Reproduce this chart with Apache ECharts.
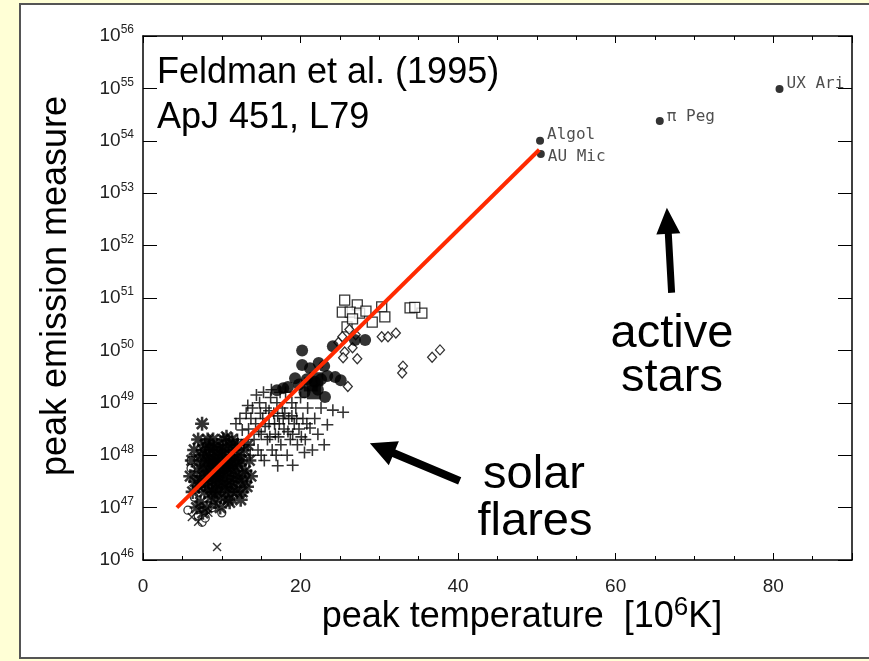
<!DOCTYPE html>
<html><head><meta charset="utf-8">
<script src="https://cdn.jsdelivr.net/npm/echarts@6.0.0/dist/echarts.min.js"></script>
<style>
html,body{margin:0;padding:0;background:#ffffd6;width:869px;height:661px;overflow:hidden}
#panel{position:absolute;left:19px;top:3px;width:880px;height:656px;background:#fff;border:2px solid #555;box-sizing:border-box}
#chart{position:absolute;left:0;top:0;width:869px;height:661px}
</style></head><body><div id="panel"></div><div id="chart"></div>
<script>
// ---- data: [temperature (10^6 K), log10(emission measure)] ----
const asteriskPts = [
 [6.0,47.6],[6.2,47.9],[6.3,47.3],[6.5,48.1],[6.6,47.5],[6.8,47.0],[6.9,47.7],[7.0,48.3],
 [7.1,47.4],[7.2,47.9],[7.3,47.1],[7.4,48.0],[7.5,47.6],[7.5,48.6],[7.6,46.9],[7.7,47.8],[7.8,47.3],[7.9,48.2],[8.0,47.6],
 [8.1,47.0],[8.2,47.9],[8.2,48.3],[8.3,47.4],[8.4,47.7],[8.5,48.1],[8.6,47.2],[8.7,47.9],[8.8,47.5],[8.9,48.3],[9.0,47.8],
 [9.1,47.1],[9.2,48.0],[9.3,47.6],[9.4,47.3],[9.4,48.2],[9.5,47.9],[9.6,47.5],[9.7,48.1],[9.8,47.7],[9.9,47.2],[10.0,48.0],
 [10.1,47.6],[10.2,48.3],[10.3,47.8],[10.4,47.4],[10.5,48.1],[10.6,47.9],[10.7,47.6],[10.8,47.15],[10.9,48.2],[11.0,47.8],
 [11.1,47.5],[11.2,48.0],[11.3,48.3],[11.4,47.7],[11.5,47.4],[11.6,48.1],[11.7,47.9],[11.8,47.6],[12.0,48.2],
 [12.1,47.8],[12.3,47.5],[12.5,47.9],[12.6,47.3],[12.8,48.1],[13.0,47.7],[13.2,47.4],[13.5,47.9],[13.7,47.6],
 [7.8,47.75],[8.6,47.65],[9.0,48.15],[9.6,47.85],[10.0,47.45],[10.4,47.95],[10.8,47.75],[11.4,48.2],[12.2,48.0],[8.8,47.3],
 [9.8,47.0],[11.9,47.3],[12.9,47.5],[7.3,47.5],[8.0,48.0],[10.6,48.35],[13.3,48.2],[11.0,47.1],[12.4,47.15],[9.3,47.45],
 [8.3,47.55],[8.9,47.85],[9.2,47.35],[9.7,47.65],[10.2,47.7],[10.5,47.3],[11.2,47.75],[11.6,47.55],[8.5,47.95],[9.5,48.05],
 [10.9,47.95],[7.9,47.45],[8.4,48.15],[10.1,48.15],[11.9,47.85],[12.6,47.65],[7.6,48.1],[9.1,47.6],[10.7,47.45],[11.3,47.3]
];
const xMarkPts = [[6.2,46.82],[7.0,46.73],[9.4,46.25],[8.3,46.9]];
const openCirclePts = [[5.7,46.95],[6.1,47.9],[6.1,47.75],[6.5,47.2],[7.0,46.85],[7.5,46.72],[7.9,46.8],[8.8,47.0],[10.0,46.9],[6.8,47.4]];
const plusPts = [
 [11.8,48.6],[12.0,48.3],[12.3,48.7],[12.6,48.48],[12.8,48.2],[13.1,48.8],[13.4,48.5],[13.6,48.0],[13.9,48.9],[14.1,48.3],
 [14.3,48.6],[14.6,48.1],[14.8,49.0],[15.0,48.4],[15.2,48.7],[15.4,47.9],[15.6,48.9],[15.8,48.3],[16.0,48.6],[16.2,49.1],
 [16.4,48.1],[16.6,48.8],[16.8,48.4],[17.0,49.0],[17.1,47.8],[17.3,48.6],[17.5,48.2],[17.7,48.9],[17.9,48.5],[18.1,49.2],
 [18.3,48.0],[18.5,48.7],[18.7,48.3],[18.9,49.0],[19.0,47.81],[19.2,48.6],[19.4,48.9],[19.6,48.2],[19.8,48.5],[20.0,49.1],
 [20.3,48.7],[20.6,48.3],[20.9,48.9],[21.2,48.52],[21.5,48.1],[21.8,48.7],[22.2,48.4],[22.6,48.9],[23.0,48.2],[23.4,48.58],
 [24.1,48.86],[25.4,48.82],
 [14.4,49.15],[15.3,49.2],[16.3,49.25],[17.4,49.2],[13.3,48.95],[15.0,48.0],[16.9,48.0],[18.0,48.8],[19.0,48.4],[20.5,48.05],
 [14.7,48.45],[15.5,48.55],[16.1,48.35],[16.7,48.6],[17.2,48.35],[17.8,48.7],[18.4,48.45],[18.9,48.75],[19.5,48.7],[20.1,48.35],
 [20.8,48.6],[13.7,48.7],[14.9,48.8],[16.0,48.85],[17.1,48.75]
];
const filledCirclePts = [[17.0,49.24],[17.8,49.28],[18.4,49.3],[19.3,49.47],[20.2,50.0],[20.2,49.72],[21.2,49.66],[22.3,49.76],
 [24.1,50.08],[23.4,49.51],[24.4,49.49],[25.1,49.43],[23.1,49.11],[21.8,49.4],[22.2,49.25],[20.8,49.45],[22.6,49.45],[26.9,50.2],[28.2,50.2],
 [19.8,49.35],[20.5,49.2],[23.0,49.7]];
const filledSquarePts = [[21.3,49.35],[22.0,49.45],[21.7,49.2]];
const openSquarePts = [[25.6,50.96],[27.2,50.87],[25.3,50.73],[26.3,50.73],[27.5,50.71],[29.1,50.54],[30.3,50.83],[30.7,50.64],
 [33.9,50.81],[35.4,50.71],[25.9,50.45],[26.6,50.6],[28.3,50.75],[34.5,50.82]];
const diamondPts = [[30.3,50.26],[31.1,50.26],[32.1,50.33],[25.3,50.26],[25.6,49.97],[27.2,49.84],[25.4,49.86],[26.0,49.31],
 [33.0,49.70],[32.9,49.57],[36.7,49.87],[37.7,50.01],[26.6,50.05],[26.2,50.4],[27.0,50.3],[24.8,50.15]];
const starNames = ['Algol','AU Mic','\u03c0 Peg','UX Ari'];
const starTemps = [50.4, 50.5, 65.6, 80.8];
const starLogEM = [54.0, 53.75, 54.38, 54.99];
const fitLine = [[4.3,47.0],[50.3,53.83]];
const arrowActive = [[67.1,51.1],[66.5,52.72]];
const arrowSolar = [[40.2,47.51],[28.8,48.23]];
const xRange = [0, 90];
const yExpRange = [46, 56];

// ---- build ----
const P = p => [p[0], Math.pow(10, p[1])];
const ASTER = 'path://M0,4.1H10V5.9H0Z M4.1,0H5.9V10H4.1Z M0.6,1.9L1.9,0.6L9.4,8.1L8.1,9.4Z M8.1,0.6L9.4,1.9L1.9,9.4L0.6,8.1Z';
const XMARK = 'path://M0.5,1.5L1.5,0.5L9.5,8.5L8.5,9.5Z M8.5,0.5L9.5,1.5L1.5,9.5L0.5,8.5Z';
const PLUS = 'path://M0,4.35H10V5.65H0Z M4.35,0H5.65V10H4.35Z';
const tickFont = "'Liberation Sans',Arial,sans-serif";
const bigFont = "'Liberation Sans',Arial,sans-serif";
const openStyle = {color:'#fff', borderColor:'#000', borderWidth:1.3};

const labelOffsets = [[0,-6],[0,3],[0,-4],[0,-5]];
const starData = starNames.map((n,i)=>({name:n, value:[starTemps[i], Math.pow(10, starLogEM[i])],
  label:{offset:labelOffsets[i]}}));

const chart = echarts.init(document.getElementById('chart'), null, {renderer:'canvas'});
const axisCommon = {
  min: xRange[0], max: xRange[1], interval: 20,
  axisLine:{show:true, onZero:false, lineStyle:{color:'#000', width:1.5}},
  axisTick:{show:true, inside:true, length:7, lineStyle:{color:'#000', width:1}},
  minorTick:{show:true, splitNumber:4, length:4, lineStyle:{color:'#000', width:1}},
  splitLine:{show:false}, minorSplitLine:{show:false}
};
const yCommon = {
  type:'log', logBase:10, min:Math.pow(10,yExpRange[0]), max:Math.pow(10,yExpRange[1]), interval:1, splitNumber:10,
  axisLine:{show:true, onZero:false, lineStyle:{color:'#000', width:1.5}},
  axisTick:{show:true, inside:true, length:14, lineStyle:{color:'#000', width:1}},
  splitLine:{show:false}
};
const option = {
  animation:false,
  backgroundColor:'transparent',
  grid:{left:143, right:17, top:36, bottom:101},
  xAxis:[
    Object.assign({type:'value', position:'bottom',
      axisLabel:{show:true, margin:17, showMaxLabel:false, fontFamily:tickFont, fontSize:19, color:'#222'}}, axisCommon),
    Object.assign({type:'value', position:'top', axisLabel:{show:false}}, axisCommon)
  ],
  yAxis:[
    Object.assign({position:'left',
      axisLabel:{show:true, margin:9, formatter:v=>'{b|10}{s|'+Math.round(Math.log10(v))+'}',
        rich:{b:{fontFamily:tickFont, fontSize:19, color:'#222', lineHeight:24},
              s:{fontFamily:tickFont, fontSize:12, color:'#222', verticalAlign:'top', lineHeight:12}}}}, yCommon),
    Object.assign({position:'right', axisLabel:{show:false}}, yCommon)
  ],
  series:[
    {type:'scatter', data:openCirclePts.map(P), symbol:'circle', symbolSize:8, itemStyle:openStyle},
    {type:'scatter', data:asteriskPts.map(P), symbol:ASTER, symbolSize:14, itemStyle:{color:'#000'}},
    {type:'scatter', data:xMarkPts.map(P), symbol:XMARK, symbolSize:9, itemStyle:{color:'#000'}},
    {type:'scatter', data:plusPts.map(P), symbol:PLUS, symbolSize:12, itemStyle:{color:'#000'}},
    {type:'scatter', data:openSquarePts.map(P), symbol:'rect', symbolSize:10, itemStyle:openStyle},
    {type:'scatter', data:diamondPts.map(P), symbol:'diamond', symbolSize:[9,10], itemStyle:openStyle},
    {type:'scatter', data:filledCirclePts.map(P), symbol:'circle', symbolSize:12, itemStyle:{color:'#000'}},
    {type:'scatter', data:filledSquarePts.map(P), symbol:'rect', symbolSize:14, itemStyle:{color:'#000'}},
    {type:'scatter', data:starData, symbol:'circle', symbolSize:8, itemStyle:{color:'#000'},
      label:{show:true, position:'right', distance:3, formatter:'{b}', fontFamily:"'DejaVu Sans Mono',monospace", fontSize:16, color:'#222'}},
    {type:'line', data:fitLine.map(P), symbol:'none', lineStyle:{color:'#ff2a00', width:4}, z:5}
  ]
};
chart.setOption(option);

function arrowPoly(tail, tip, sw, hl, hw){
  const dx=tip[0]-tail[0], dy=tip[1]-tail[1], L=Math.hypot(dx,dy);
  const ux=dx/L, uy=dy/L, nx=-uy, ny=ux;
  const bx=tip[0]-ux*hl, by=tip[1]-uy*hl;
  return [[tail[0]+nx*sw/2, tail[1]+ny*sw/2],[bx+nx*sw/2, by+ny*sw/2],[bx+nx*hw/2, by+ny*hw/2],
          [tip[0],tip[1]],[bx-nx*hw/2, by-ny*hw/2],[bx-nx*sw/2, by-ny*sw/2],[tail[0]-nx*sw/2, tail[1]-ny*sw/2]];
}
const px = p => chart.convertToPixel({seriesIndex:9}, P(p));
const aA = arrowPoly(px(arrowActive[0]), px(arrowActive[1]), 7, 26, 24);
const aS = arrowPoly(px(arrowSolar[0]), px(arrowSolar[1]), 8, 26, 26);

chart.setOption({graphic:[
  {type:'polygon', shape:{points:aA}, style:{fill:'#000'}, z:10},
  {type:'polygon', shape:{points:aS}, style:{fill:'#000'}, z:10},
  {type:'text', x:157, y:73, style:{text:'Feldman et al. (1995)', font:'36px '+bigFont, fill:'#000', align:'left', verticalAlign:'middle'}, z:10},
  {type:'text', x:157, y:118, style:{text:'ApJ 451, L79', font:'36px '+bigFont, fill:'#000', align:'left', verticalAlign:'middle'}, z:10},
  {type:'text', x:672, y:334, style:{text:'active', font:'47px '+bigFont, fill:'#000', align:'center', verticalAlign:'middle'}, z:10},
  {type:'text', x:672, y:378, style:{text:'stars', font:'47px '+bigFont, fill:'#000', align:'center', verticalAlign:'middle'}, z:10},
  {type:'text', x:534, y:475, style:{text:'solar', font:'47px '+bigFont, fill:'#000', align:'center', verticalAlign:'middle'}, z:10},
  {type:'text', x:535, y:522, style:{text:'flares', font:'47px '+bigFont, fill:'#000', align:'center', verticalAlign:'middle'}, z:10},
  {type:'text', x:56, y:286, rotation:Math.PI/2, style:{text:'peak emission measure', font:'36px '+bigFont, fill:'#000', align:'center', verticalAlign:'middle'}, z:10},
  {type:'text', x:522, y:617, style:{text:'{t|peak temperature  [10}{s|6}{t|K]}', align:'center', verticalAlign:'middle',
     rich:{t:{fontSize:36, fontFamily:bigFont, fill:'#000', lineHeight:44}, s:{fontSize:26, fontFamily:bigFont, fill:'#000', verticalAlign:'top', lineHeight:26}}}, z:10}
]});
</script></body></html>
